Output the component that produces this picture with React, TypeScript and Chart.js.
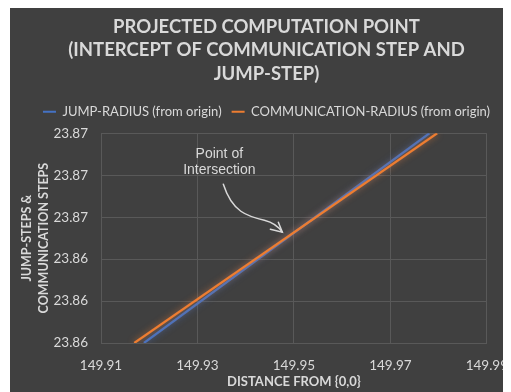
import React, { useEffect, useRef } from "react";
import { Chart, registerables } from "chart.js";

Chart.register(...registerables);

const titleLines = ["PROJECTED COMPUTATION POINT", "(INTERCEPT OF COMMUNICATION STEP AND", "JUMP-STEP)"];
const seriesNames = ["JUMP-RADIUS (from origin)", "COMMUNICATION-RADIUS (from origin)"];
const seriesColors = ["#4472C4", "#ED7D31"];

// JUMP-RADIUS line (distance, steps)
const jumpX = [149.9189, 149.9781];
const jumpY = [23.86, 23.87];
// COMMUNICATION-RADIUS line
const commX = [149.9169, 149.9797];
const commY = [23.86, 23.87];

const xTicks = [149.91, 149.93, 149.95, 149.97, 149.99];
const xTickLabels = ["149.91", "149.93", "149.95", "149.97", "149.99"];
const yTicks = [23.86, 23.862, 23.864, 23.866, 23.868, 23.87];
const yTickLabels = ["23.86", "23.86", "23.86", "23.87", "23.87", "23.87"];

const xAxisTitle = "DISTANCE FROM {0,0}";
const yAxisTitle = ["JUMP-STEPS &", "COMMUNICATION STEPS"];

const annotationText = ["Point of", "Intersection"];
const annotationPoint = { x: 149.9476, y: 23.86528 };

const BG = "#404040";
const TEXT = "#d9d9d9";
const GRID = "#595959";
const FONT = "Lato, 'Open Sans', sans-serif";

const layoutPlugin = {
  id: "layoutTweaks",
  beforeLayout(chart: any) {
    const lg = chart.legend;
    if (lg && !lg._gapPatched) {
      const f = lg.fit.bind(lg);
      lg.fit = () => {
        f();
        lg.height += 5;
      };
      lg._gapPatched = true;
    }
  },
  afterLayout(chart: any) {
    // title and legend are centred on the whole canvas width
    if (chart.titleBlock) chart.titleBlock.right = chart.width;
    if (chart.legend) chart.legend.right = chart.width;
  },
};

const glowPlugin = {
  id: "glow",
  beforeDatasetDraw(chart: any, args: any) {
    const ctx = chart.ctx;
    ctx.save();
    const c = seriesColors[args.index];
    ctx.shadowColor = c + "aa";
    ctx.shadowBlur = 6;
  },
  afterDatasetDraw(chart: any) {
    chart.ctx.restore();
  },
};

const annotationPlugin = {
  id: "intersectionNote",
  afterDatasetsDraw(chart: any) {
    const { ctx, scales } = chart;
    const tx = scales.x.getPixelForValue(annotationPoint.x);
    const ty = scales.y.getPixelForValue(annotationPoint.y);
    ctx.save();
    ctx.fillStyle = TEXT;
    ctx.font = "14px 'Liberation Sans', Arial, sans-serif";
    ctx.textAlign = "center";
    ctx.textBaseline = "alphabetic";
    ctx.fillText(annotationText[0], tx - 63, ty - 74);
    ctx.fillText(annotationText[1], tx - 63, ty - 58);
    // curved arrow
    ctx.strokeStyle = TEXT;
    ctx.lineWidth = 1.5;
    ctx.lineCap = "round";
    ctx.beginPath();
    ctx.moveTo(tx - 59, ty - 48);
    ctx.bezierCurveTo(tx - 50, ty - 20, tx - 35, ty - 16, tx - 18, ty - 12);
    ctx.quadraticCurveTo(tx - 6, ty - 9, tx, ty);
    ctx.stroke();
    ctx.beginPath();
    ctx.moveTo(tx - 4, ty - 10);
    ctx.lineTo(tx, ty);
    ctx.lineTo(tx - 12, ty - 3);
    ctx.stroke();
    ctx.restore();
  },
};

export default function App() {
  const ref = useRef<HTMLCanvasElement>(null);
  useEffect(() => {
    document.documentElement.style.overflow = "hidden";
    const canvas = ref.current!;
    const chart = new Chart(canvas, {
      type: "line",
      data: {
        datasets: [
          {
            label: seriesNames[0],
            data: jumpX.map((x, i) => ({ x, y: jumpY[i] })),
            borderColor: seriesColors[0],
            backgroundColor: seriesColors[0],
            borderWidth: 2.25,
            pointRadius: 0,
            order: 1,
          },
          {
            label: seriesNames[1],
            data: commX.map((x, i) => ({ x, y: commY[i] })),
            borderColor: seriesColors[1],
            backgroundColor: seriesColors[1],
            borderWidth: 2.25,
            pointRadius: 0,
            order: 0,
          },
        ],
      },
      options: {
        responsive: false,
        animation: false,
        events: [],
        layout: { padding: { left: 0, right: 28, top: 0, bottom: 0 } },
        plugins: {
          tooltip: { enabled: false },
          title: {
            display: true,
            text: titleLines,
            color: TEXT,
            font: { family: FONT, size: 18.5, weight: "bold", lineHeight: 1.27 },
            padding: { top: 7, bottom: 9.75 },
          },
          legend: {
            display: true,
            position: "top",
            labels: {
              color: TEXT,
              font: { family: FONT, size: 13 },
              boxWidth: 13,
              boxHeight: 2,
              padding: 10,
              generateLabels: (chart: any) =>
                Chart.defaults.plugins.legend.labels
                  .generateLabels(chart)
                  .map((l: any) => ({ ...l, lineWidth: 0, fillStyle: seriesColors[l.datasetIndex] }))
                  .sort((a: any, b: any) => a.datasetIndex - b.datasetIndex),
            },
          },
        },
        scales: {
          x: {
            type: "linear",
            min: xTicks[0],
            max: xTicks[xTicks.length - 1],
            afterBuildTicks: (s: any) => {
              s.ticks = xTicks.map((v) => ({ value: v }));
            },
            afterFit: (s: any) => {
              s.height = 57;
            },
            ticks: {
              color: TEXT,
              font: { family: FONT, size: 13.5 },
              padding: 15,
              maxRotation: 0,
              callback: (_v: any, i: number) => xTickLabels[i],
            },
            grid: { color: GRID, drawTicks: false, lineWidth: 1 },
            border: { color: GRID },
            title: {
              display: true,
              text: xAxisTitle,
              color: TEXT,
              font: { family: FONT, size: 13, weight: "bold", lineHeight: 1.15 },
              padding: { top: 0, bottom: 11 },
            },
          },
          y: {
            type: "linear",
            min: yTicks[0],
            max: yTicks[yTicks.length - 1],
            afterBuildTicks: (s: any) => {
              s.ticks = yTicks.map((v) => ({ value: v }));
            },
            afterFit: (s: any) => {
              s.width = 91;
            },
            ticks: {
              color: TEXT,
              font: { family: FONT, size: 13.5 },
              padding: 13,
              callback: (_v: any, i: number) => yTickLabels[i],
            },
            grid: { color: GRID, drawTicks: false, lineWidth: 1 },
            border: { color: GRID },
            title: {
              display: true,
              text: yAxisTitle,
              color: TEXT,
              font: { family: FONT, size: 12.5, weight: "bold", lineHeight: 1.36 },
              padding: { top: 8.5, bottom: 0 },
            },
          },
        },
      },
      plugins: [layoutPlugin, glowPlugin, annotationPlugin],
    } as any);
    return () => chart.destroy();
  }, []);
  return (
    <div style={{ marginLeft: 2, width: 501, height: 384, overflow: "hidden", background: BG }}>
      <canvas ref={ref} width={513} height={392} style={{ display: "block" }} />
    </div>
  );
}
